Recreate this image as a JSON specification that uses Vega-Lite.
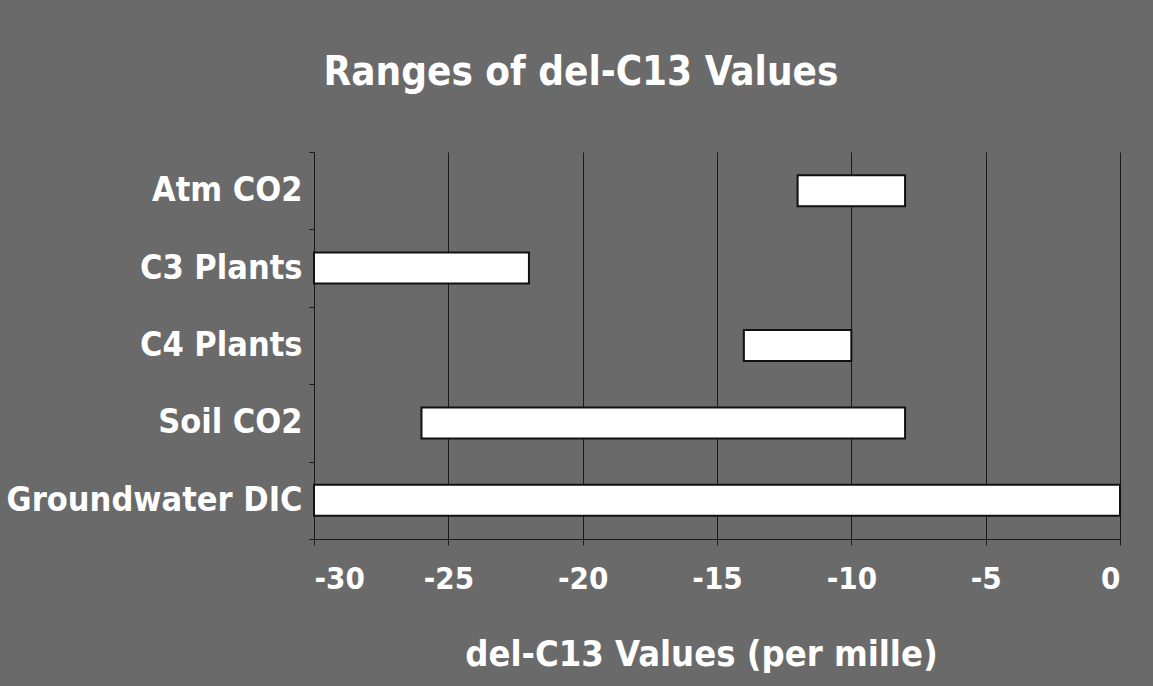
{
  "$schema": "https://vega.github.io/schema/vega-lite/v6.json",
  "autosize": "none",
  "width": 806,
  "height": 387,
  "padding": {"left": 314, "top": 152, "right": 33, "bottom": 147},
  "background": "#6a6a6a",
  "config": {
    "font": "DejaVu Sans Condensed, Liberation Sans, sans-serif",
    "view": {"stroke": null},
    "axis": {
      "labelFont": "DejaVu Sans Condensed, Liberation Sans, sans-serif",
      "titleFont": "DejaVu Sans Condensed, Liberation Sans, sans-serif",
      "labelColor": "#ffffff",
      "titleColor": "#ffffff",
      "labelFontWeight": "bold",
      "titleFontWeight": "bold",
      "labelLimit": 0,
      "domainColor": "#1a1a1a",
      "tickColor": "#1a1a1a",
      "gridColor": "#1a1a1a",
      "gridOpacity": 1,
      "gridWidth": 1
    }
  },
  "title": {
    "text": "Ranges of del-C13 Values",
    "font": "DejaVu Sans Condensed, Liberation Sans, sans-serif",
    "fontSize": 40,
    "fontWeight": "bold",
    "color": "#ffffff",
    "anchor": "middle",
    "dx": -136,
    "offset": 42
  },
  "data": {
    "values": [
      {"source": "Atm CO2", "low": -12, "high": -8},
      {"source": "C3 Plants", "low": -30, "high": -22},
      {"source": "C4 Plants", "low": -14, "high": -10},
      {"source": "Soil CO2", "low": -26, "high": -8},
      {"source": "Groundwater DIC", "low": -30, "high": 0}
    ]
  },
  "mark": {
    "type": "bar",
    "fill": "#ffffff",
    "stroke": "#111111",
    "strokeWidth": 2,
    "height": {"band": 0.4}
  },
  "encoding": {
    "y": {
      "field": "source",
      "type": "nominal",
      "sort": null,
      "scale": {"paddingInner": 0, "paddingOuter": 0},
      "axis": {
        "title": null,
        "labelFontSize": 34,
        "labelPadding": 7,
        "tickBand": "extent",
        "tickSize": 5,
        "grid": false,
        "domain": true
      }
    },
    "x": {
      "field": "low",
      "type": "quantitative",
      "scale": {"domain": [-30, 0], "nice": false, "zero": false},
      "axis": {
        "title": "del-C13 Values (per mille)",
        "values": [-30, -25, -20, -15, -10, -5, 0],
        "labelExpr": "'' + datum.value",
        "labelFontSize": 31,
        "titleFontSize": 36,
        "tickSize": 6,
        "labelPadding": 19,
        "titlePadding": 43,
        "titleX": 387,
        "grid": true,
        "domain": true
      }
    },
    "x2": {"field": "high"}
  }
}
